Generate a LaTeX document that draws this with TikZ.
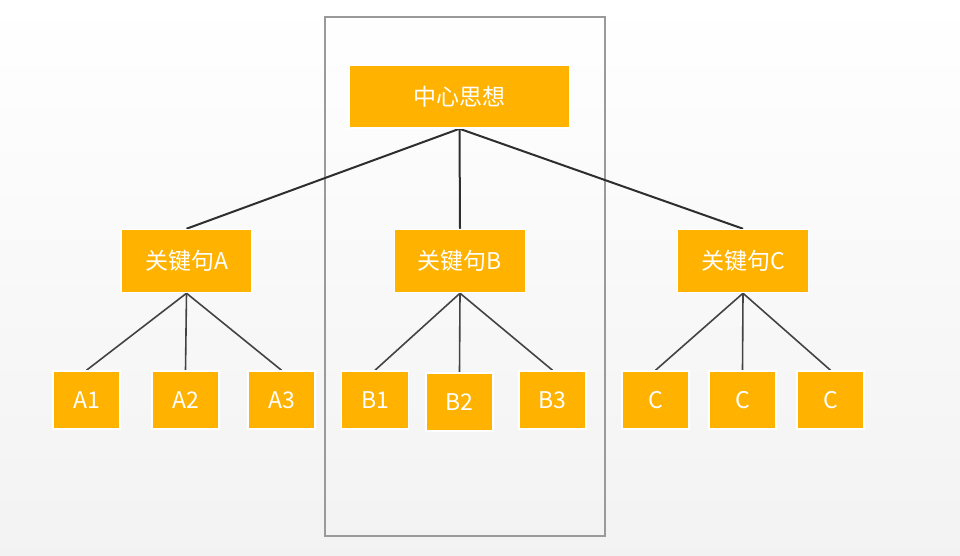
\documentclass[tikz,border=0pt]{standalone}
\usepackage{fontspec}
\setmainfont{Noto Sans CJK SC}
\pgfdeclarelayer{bg}
\pgfdeclarelayer{edges}
\pgfsetlayers{bg,edges,main}
\definecolor{boxfill}{HTML}{FFB300}
\definecolor{edgecol}{HTML}{2E2E2E}
\definecolor{framecol}{HTML}{9A9A9A}
\tikzset{
  box/.style={draw=white, line width=1.5pt, fill=boxfill, text=white, inner sep=0pt,
    font=\fontsize{23}{27}\selectfont},
  topbox/.style={box, minimum width=221pt, minimum height=63pt},
  keybox/.style={box, minimum width=131pt, minimum height=63pt},
  leafbox/.style={box, minimum width=67pt, minimum height=58pt},
  topedge/.style={draw=edgecol, line width=2pt},
  leafedge/.style={draw=edgecol!90, line width=1.6pt},
}
\begin{document}
\begin{tikzpicture}[x=1pt,y=-1pt]
\useasboundingbox (0,0) rectangle (960,556);
\begin{pgfonlayer}{bg}
\shade[top color=white, bottom color=black!5] (0,0) rectangle (960,556);
\draw[framecol, line width=1.5pt] (325,17) rectangle (605,536);
\end{pgfonlayer}

\node[topbox] (top) at (459.5,96.5) {中心思想};
\node[keybox] (ka) at (186.5,261) {关键句A};
\node[keybox] (kb) at (460,261) {关键句B};
\node[keybox] (kc) at (743,261) {关键句C};

\node[leafbox] (a1) at (86.5,400) {A1};
\node[leafbox] (a2) at (185.5,400) {A2};
\node[leafbox] (a3) at (281.5,400) {A3};
\node[leafbox] (b1) at (375,400) {B1};
\node[leafbox] (b2) at (459.5,402) {B2};
\node[leafbox] (b3) at (552.5,400) {B3};
\node[leafbox] (c1) at (655.5,400) {C};
\node[leafbox] (c2) at (742.5,400) {C};
\node[leafbox] (c3) at (830.5,400) {C};

\begin{pgfonlayer}{edges}
\draw[topedge] (top.south) -- (ka.north);
\draw[topedge] (top.south) -- (kb.north);
\draw[topedge] (top.south) -- (kc.north);
\foreach \p/\c in {ka/a1,ka/a2,ka/a3,kb/b1,kb/b2,kb/b3,kc/c1,kc/c2,kc/c3}
  \draw[leafedge] (\p.south) -- (\c.north);
\end{pgfonlayer}
\end{tikzpicture}
\end{document}
